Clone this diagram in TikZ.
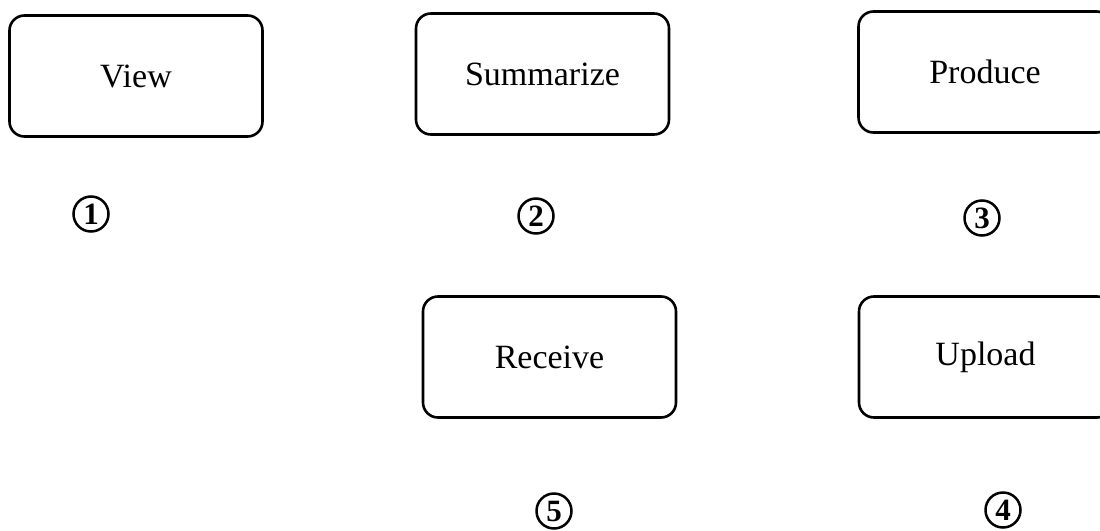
\documentclass[tikz,border=0pt]{standalone}
\usepackage{fontspec}
\setmainfont{Liberation Serif}
\tikzset{
  box/.style={draw=black, line width=2.6pt, rounded corners=15pt,
    minimum width=253pt, minimum height=121pt, inner sep=0pt,
    font=\fontsize{34}{40}\selectfont},
  num/.style={circle, draw=black, line width=2.5pt, minimum size=35pt,
    inner sep=0pt, font=\fontsize{31}{32}\selectfont\bfseries}
}
\begin{document}
\begin{tikzpicture}[x=1pt,y=-1pt]
\clip (0,0) rectangle (1100,530);
\fill[white] (0,0) rectangle (1100,530);
\node[box] (view) at (136,76) {View};
\node[box] (summ) at (542.5,74) {Summarize};
\node[box] (prod) at (985,72) {Produce};
\node[box] (recv) at (549.5,357) {Receive};
\node[box] (upl) at (985.5,357) {Upload};
\node[num] (n1) at (91,214) {1};
\node[num] (n2) at (536,216) {2};
\node[num] (n3) at (982,218) {3};
\node[num] (n4) at (1003,510) {4};
\node[num] (n5) at (554,511) {5};
\end{tikzpicture}
\end{document}
